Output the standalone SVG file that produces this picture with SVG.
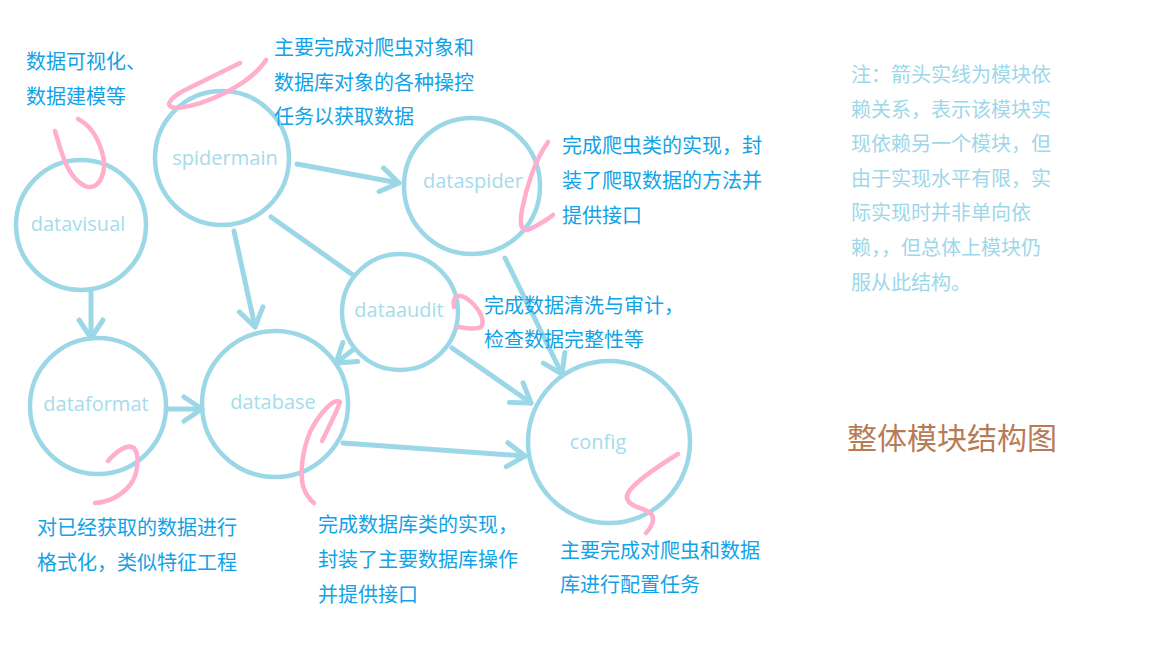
<svg xmlns="http://www.w3.org/2000/svg" width="1152" height="648" viewBox="0 0 1152 648">
<style>
.node{fill:none;stroke:#9cd7e8;stroke-width:4.5}
.lbl{font-family:"Open Sans","Noto Sans",sans-serif;font-size:20px;fill:#a6dbeb;text-anchor:middle}
.edge{fill:none;stroke:#9cd7e8;stroke-width:5;stroke-linecap:round}
.pink{fill:none;stroke:#ffaecb;stroke-width:4.5;stroke-linecap:round;stroke-linejoin:round}
.ann{font-family:"Noto Sans CJK SC","Noto Sans",sans-serif;font-size:20px;fill:#12a2e6}
.note{font-family:"Noto Sans CJK SC","Noto Sans",sans-serif;font-size:20px;fill:#9dd7ea}
.title{font-family:"Noto Sans CJK SC","Noto Sans",sans-serif;font-size:30px;fill:#b97a56}
</style>
<defs>
<marker id="arr" markerUnits="userSpaceOnUse" viewBox="0 0 24 30" markerWidth="24" markerHeight="30" refX="21" refY="15" orient="auto">
<path d="M3,3 L21,15 L3,27" fill="none" stroke="#9cd7e8" stroke-width="5" stroke-linecap="round" stroke-linejoin="round"/>
</marker>
</defs>
<rect width="1152" height="648" fill="#ffffff"/>

<g id="connectors">
<line class="edge" x1="297" y1="164" x2="399" y2="183" marker-end="url(#arr)"/>
<line class="edge" x1="234" y1="231" x2="255" y2="327" marker-end="url(#arr)"/>
<line class="edge" x1="271" y1="217" x2="353" y2="275"/>
<line class="edge" x1="91" y1="290" x2="91" y2="338" marker-end="url(#arr)"/>
<line class="edge" x1="168" y1="409" x2="202" y2="409" marker-end="url(#arr)"/>
<line class="edge" x1="354" y1="349" x2="336" y2="363" marker-end="url(#arr)"/>
<line class="edge" x1="452" y1="348" x2="531" y2="403" marker-end="url(#arr)"/>
<line class="edge" x1="343" y1="443" x2="525" y2="456" marker-end="url(#arr)"/>
<line class="edge" x1="505" y1="258" x2="562" y2="374" marker-end="url(#arr)"/>
</g>

<g id="datavisual">
<circle class="node" cx="81" cy="225" r="65"/>
<text class="lbl" x="78" y="231">datavisual</text>
</g>
<g id="spidermain">
<circle class="node" cx="222" cy="158" r="67"/>
<text class="lbl" x="225" y="165">spidermain</text>
</g>
<g id="dataspider">
<circle class="node" cx="472" cy="186" r="68"/>
<text class="lbl" x="473" y="188">dataspider</text>
</g>
<g id="dataaudit">
<circle class="node" cx="400" cy="312" r="58"/>
<text class="lbl" x="399" y="317">dataaudit</text>
</g>
<g id="dataformat">
<circle class="node" cx="98" cy="406" r="68"/>
<text class="lbl" x="96" y="411">dataformat</text>
</g>
<g id="database">
<circle class="node" cx="275" cy="404" r="73"/>
<text class="lbl" x="273" y="409">database</text>
</g>
<g id="config">
<circle class="node" cx="609" cy="442" r="81"/>
<text class="lbl" x="598" y="449">config</text>
</g>

<g id="annotations">
<path class="pink" d="M55,131 C62,155 68,178 85,186 C100,192 108,170 102,152 C97,135 88,124 78,119"/>
<path class="pink" d="M240,63 L185,90 C168,99 163,108 178,108 C205,105 250,85 266,60"/>
<path class="pink" d="M548,142 C535,160 526,188 522,210 C519,226 522,233 530,229 C540,224 548,219 553,215"/>
<path class="pink" d="M454,307 C452,297 458,293 466,298 C478,306 486,320 481,327 C475,330 466,328 458,327"/>
<path class="pink" d="M108,461 C118,450 128,444 134,448 C140,455 138,475 130,485 C120,497 108,502 95,503"/>
<path class="pink" d="M322,441 C330,425 338,408 340,402 C335,397 320,412 310,432 C302,452 300,472 303,486 C306,495 310,500 314,503"/>
<path class="pink" d="M678,454 C660,465 640,478 630,490 C622,500 630,505 645,510 C656,514 655,523 646,533"/>

<text class="ann" x="26" y="69">数据可视化、</text>
<text class="ann" x="26" y="104">数据建模等</text>

<text class="ann" x="274" y="55">主要完成对爬虫对象和</text>
<text class="ann" x="274" y="90">数据库对象的各种操控</text>
<text class="ann" x="274" y="124">任务以获取数据</text>

<text class="ann" x="562" y="153">完成爬虫类的实现，封</text>
<text class="ann" x="562" y="188">装了爬取数据的方法并</text>
<text class="ann" x="562" y="223">提供接口</text>

<text class="ann" x="484" y="313">完成数据清洗与审计，</text>
<text class="ann" x="484" y="347">检查数据完整性等</text>

<text class="ann" x="37" y="535">对已经获取的数据进行</text>
<text class="ann" x="37" y="570">格式化，类似特征工程</text>

<text class="ann" x="318" y="532">完成数据库类的实现，</text>
<text class="ann" x="318" y="567">封装了主要数据库操作</text>
<text class="ann" x="318" y="602">并提供接口</text>

<text class="ann" x="560" y="558">主要完成对爬虫和数据</text>
<text class="ann" x="560" y="592">库进行配置任务</text>
</g>

<g id="note">
<text class="note" x="851" y="82">注：箭头实线为模块依</text>
<text class="note" x="851" y="117">赖关系，表示该模块实</text>
<text class="note" x="851" y="151">现依赖另一个模块，但</text>
<text class="note" x="851" y="186">由于实现水平有限，实</text>
<text class="note" x="851" y="220">际实现时并非单向依</text>
<text class="note" x="851" y="255">赖，，但总体上模块仍</text>
<text class="note" x="851" y="290">服从此结构。</text>
</g>

<g id="title">
<text class="title" x="847" y="449">整体模块结构图</text>
</g>
</svg>
